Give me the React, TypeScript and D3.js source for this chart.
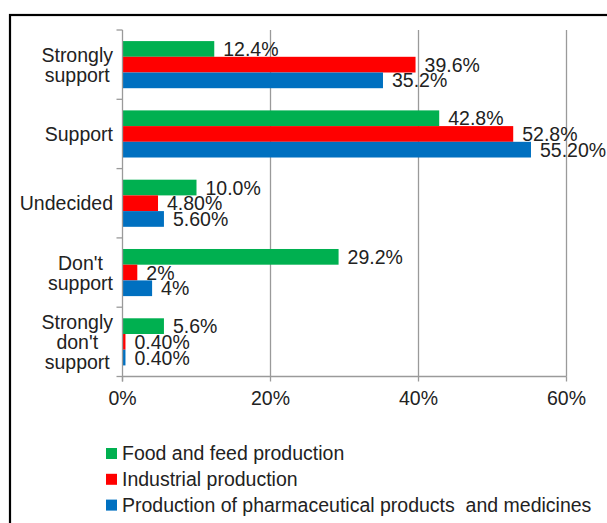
import React, { useEffect, useRef } from "react";
import * as d3 from "d3";

const categories = ["Strongly support", "Support", "Undecided", "Don't support", "Strongly don't support"];
const categoryLines = [["Strongly", "support"], ["Support"], ["Undecided"], ["Don't", "support"], ["Strongly", "don't", "support"]];
const seriesNames = ["Food and feed production", "Industrial production", "Production of pharmaceutical products  and medicines"];
const seriesColors = ["#00B050", "#FF0000", "#0070C0"];
const foodValues = [12.4, 42.8, 10.0, 29.2, 5.6];
const industrialValues = [39.6, 52.8, 4.8, 2, 0.4];
const pharmaValues = [35.2, 55.2, 5.6, 4, 0.4];
const foodLabels = ["12.4%", "42.8%", "10.0%", "29.2%", "5.6%"];
const industrialLabels = ["39.6%", "52.8%", "4.80%", "2%", "0.40%"];
const pharmaLabels = ["35.2%", "55.20%", "5.60%", "4%", "0.40%"];
const xTicks = [0, 20, 40, 60];

const W = 607;
const H = 523;
const FONT = "'Liberation Sans', Arial, sans-serif";
const FS = 19.5;

export default function App() {
  const ref = useRef<SVGSVGElement>(null);

  useEffect(() => {
    const svg = d3.select(ref.current);
    svg.selectAll("*").remove();

    const left = 122.5, right = 566.5, top = 30, bottom = 376.5;
    const x = d3.scaleLinear().domain([0, 60]).range([left, right]);
    const y = d3.scaleBand<string>().domain(categories).range([top, bottom]).paddingInner(0.32).paddingOuter(0.16);
    const yStep = (bottom - top) / categories.length;
    const inner = d3.scaleBand<number>().domain([0, 1, 2]).range([0, y.bandwidth()]);

    const series = [
      { values: foodValues, labels: foodLabels },
      { values: industrialValues, labels: industrialLabels },
      { values: pharmaValues, labels: pharmaLabels },
    ];

    // outer border
    svg.append("rect").attr("x", 10).attr("y", 15).attr("width", 640).attr("height", 560)
      .attr("fill", "white").attr("stroke", "#000").attr("stroke-width", 2.2);

    // gridlines
    svg.append("g").selectAll("line").data(xTicks.slice(1)).join("line")
      .attr("x1", d => x(d)).attr("x2", d => x(d)).attr("y1", top).attr("y2", bottom)
      .attr("stroke", "#9a9a9a").attr("stroke-width", 1.3);

    // bars
    series.forEach((s, si) => {
      const g = svg.append("g");
      g.selectAll("rect").data(s.values).join("rect")
        .attr("x", x(0)).attr("y", (d, i) => (y(categories[i]) as number) + (inner(si) as number))
        .attr("width", d => x(d) - x(0)).attr("height", inner.bandwidth())
        .attr("fill", seriesColors[si]);
      g.selectAll("text").data(s.values).join("text")
        .attr("x", d => x(d) + 9)
        .attr("y", (d, i) => (y(categories[i]) as number) + (inner(si) as number) + inner.bandwidth() / 2)
        .attr("dy", "0.36em")
        .attr("font-family", FONT).attr("font-size", FS).attr("fill", "#222")
        .text((d, i) => s.labels[i]);
    });

    // y axis line and ticks
    svg.append("line").attr("x1", left).attr("x2", left).attr("y1", top).attr("y2", bottom + 5)
      .attr("stroke", "#9a9a9a").attr("stroke-width", 1.3);
    svg.append("g").selectAll("line").data(d3.range(categories.length + 1)).join("line")
      .attr("x1", left - 6).attr("x2", left).attr("y1", d => top + d * yStep).attr("y2", d => top + d * yStep)
      .attr("stroke", "#9a9a9a").attr("stroke-width", 1.3);

    // x axis
    svg.append("line").attr("x1", left).attr("x2", right).attr("y1", bottom).attr("y2", bottom)
      .attr("stroke", "#9a9a9a").attr("stroke-width", 1.3);
    svg.append("g").selectAll("line").data(xTicks).join("line")
      .attr("x1", d => x(d)).attr("x2", d => x(d)).attr("y1", bottom).attr("y2", bottom + 5)
      .attr("stroke", "#9a9a9a").attr("stroke-width", 1.3);
    svg.append("g").selectAll("text").data(xTicks).join("text")
      .attr("x", d => x(d)).attr("y", 405).attr("text-anchor", "middle")
      .attr("font-family", FONT).attr("font-size", FS).attr("fill", "#222")
      .text(d => `${d}%`);

    // category labels
    const lineH = 20;
    categories.forEach((c, i) => {
      const lines = categoryLines[i];
      const cy = (y(c) as number) + y.bandwidth() / 2;
      const g = svg.append("g");
      const texts = g.selectAll("text").data(lines).join("text")
        .attr("y", (d, j) => cy + (j - (lines.length - 1) / 2) * lineH)
        .attr("dy", "0.36em")
        .attr("text-anchor", "middle")
        .attr("font-family", FONT).attr("font-size", FS).attr("fill", "#222")
        .text(d => d);
      let maxW = 0;
      texts.each(function () {
        maxW = Math.max(maxW, (this as SVGTextElement).getComputedTextLength());
      });
      texts.attr("x", 113 - maxW / 2);
    });

    // legend
    const lg = svg.append("g");
    seriesNames.forEach((n, i) => {
      const by = 460 + i * 25.8;
      lg.append("rect").attr("x", 106).attr("y", by - 12).attr("width", 11).attr("height", 11)
        .attr("fill", seriesColors[i]);
      lg.append("text").attr("x", 122).attr("y", by)
        .attr("font-family", FONT).attr("font-size", FS).attr("fill", "#222")
        .style("white-space", "pre")
        .text(n);
    });
  }, []);

  return (
    <svg ref={ref} width={W} height={H} style={{ position: "absolute", left: 0, top: 0, background: "white" }} />
  );
}
